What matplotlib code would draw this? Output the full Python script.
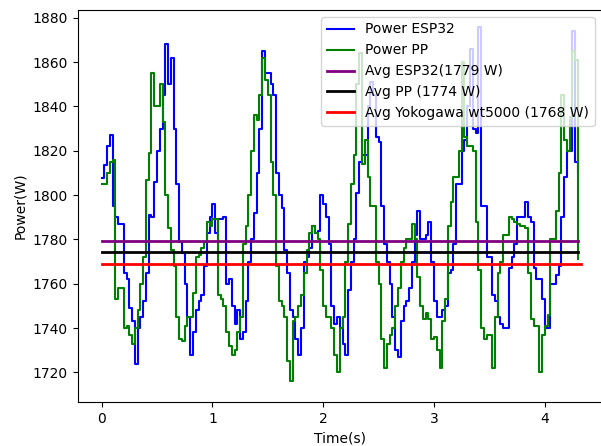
import numpy as np
import matplotlib
matplotlib.use('Agg')
import matplotlib.pyplot as plt

# samples every 25 ms
time_s = np.round(np.arange(173) * 0.025, 3)

power_esp32 = [
    1807.5, 1813.5, 1822, 1827, 1795, 1790, 1787, 1787, 1765, 1762,
    1749, 1743, 1724, 1740, 1745, 1752, 1765, 1791, 1790, 1806,
    1820, 1830, 1845, 1868, 1850, 1862, 1830, 1805, 1779, 1774,
    1760, 1745, 1728, 1738, 1748, 1752, 1755, 1768, 1783, 1790,
    1796, 1783, 1789, 1789, 1790, 1760, 1762, 1750, 1742, 1748,
    1735, 1738, 1752, 1770, 1780, 1792, 1810, 1830, 1865, 1855,
    1855, 1850, 1845, 1810, 1800, 1794, 1775, 1765, 1748, 1745,
    1735, 1728, 1740, 1770, 1772, 1776, 1786, 1783, 1784, 1800,
    1796, 1790, 1778, 1750, 1742, 1745, 1740, 1733,
    1728, 1757, 1770, 1780, 1801, 1815, 1818, 1818, 1840, 1851, 1845, 1826,
    1824, 1795, 1778, 1770, 1760, 1745, 1730, 1727, 1743, 1750,
    1752, 1758, 1770, 1782, 1793, 1780, 1780, 1782, 1788, 1770,
    1752, 1745, 1745, 1748, 1750, 1765, 1766, 1778, 1805, 1805,
    1820, 1825, 1840, 1866, 1830, 1828, 1876, 1795, 1795, 1772,
    1772, 1755, 1752, 1745, 1742, 1740, 1740, 1767, 1772, 1778,
    1790, 1790, 1790, 1797, 1790, 1788, 1767, 1762, 1762, 1753,
    1740, 1740, 1760, 1760, 1764, 1768, 1790, 1808, 1820, 1820,
    1874, 1815, 1810,
]

power_pp = [
    1805, 1805, 1810, 1815, 1816, 1753, 1758, 1758, 1740, 1741,
    1737, 1733, 1740, 1748, 1760, 1772, 1807, 1819, 1855, 1840,
    1840, 1850, 1833, 1800, 1785, 1775, 1768, 1745, 1735, 1734,
    1741, 1745, 1745, 1756, 1772, 1773, 1776, 1779, 1788, 1786,
    1789, 1789, 1755, 1753, 1750, 1738, 1732, 1728, 1730, 1738,
    1745, 1778, 1786, 1800, 1820, 1836, 1834, 1845, 1862, 1852,
    1845, 1815, 1800, 1768, 1752, 1750, 1745, 1725, 1716, 1743,
    1745, 1750, 1755, 1765, 1775, 1783, 1786, 1783, 1780, 1766,
    1750, 1745, 1745, 1740, 1728, 1720, 1740, 1745,
    1770, 1787, 1805, 1818, 1850, 1864, 1814, 1825, 1808, 1795, 1795, 1770,
    1760, 1735, 1722, 1733, 1737, 1740, 1750, 1758, 1770, 1776,
    1780, 1780, 1787, 1780, 1763, 1750, 1744, 1747, 1744, 1735,
    1736, 1730, 1722, 1743, 1753, 1786, 1797, 1808, 1808, 1820,
    1860, 1826, 1822, 1822, 1820, 1788, 1766, 1740, 1735, 1737,
    1737, 1722, 1745, 1765, 1770, 1782, 1782, 1790, 1789, 1788,
    1787, 1786, 1786, 1785, 1765, 1744, 1741, 1741, 1720, 1737,
    1741, 1746, 1780, 1780, 1793, 1810, 1845, 1825, 1820, 1835,
    1865, 1861, 1771,
]

avg_esp32 = 1779.2
avg_pp = 1774.4
avg_yoko = 1769.0
t_end = 4.3
t_end_yoko = 4.33

fig = plt.figure(figsize=(6.01, 4.46), dpi=100)
ax = fig.add_axes([0.1294, 0.098, 0.872, 0.8796])

ax.plot(time_s, power_esp32, color='blue', drawstyle='steps-post', label='Power ESP32')
ax.plot(time_s, power_pp, color='green', drawstyle='steps-post', label='Power PP')
ax.plot([0, t_end], [avg_esp32, avg_esp32], color='purple', lw=2, label='Avg ESP32(1779 W)')
ax.plot([0, t_end], [avg_pp, avg_pp], color='black', lw=2, label='Avg PP (1774 W)')
ax.plot([0, t_end_yoko], [avg_yoko, avg_yoko], color='red', lw=2,
        label='Avg Yokogawa wt5000 (1768 W)')

ax.set_xlim(-0.215, 4.515)
ax.set_ylim(1706.5, 1883.5)
ax.set_xlabel('Time(s)')
ax.set_ylabel('Power(W)')
ax.legend(loc='upper right')

plt.savefig('out.png', dpi=100)
